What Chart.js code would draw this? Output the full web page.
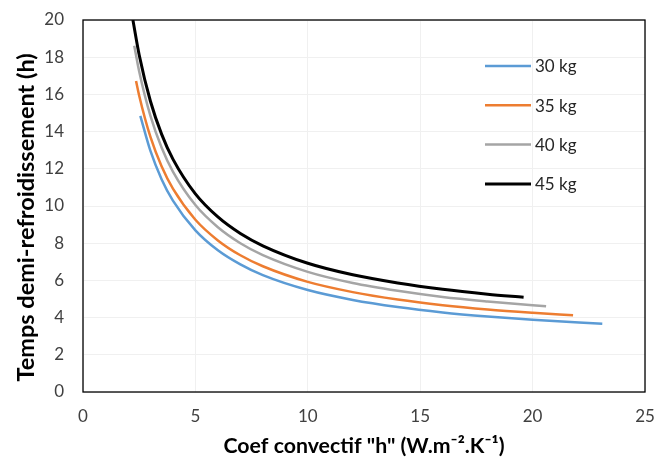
<!DOCTYPE html>
<html>
<head>
<meta charset="utf-8">
<script src="https://cdn.jsdelivr.net/npm/chart.js@4/dist/chart.umd.min.js"></script>
<style>
  html, body { margin: 0; padding: 0; background: #fff; }
  #wrap { width: 660px; height: 462px; }
</style>
</head>
<body>
<div id="wrap"><canvas id="coolChart" width="660" height="462"></canvas></div>
<script>
// valeurs
const seriesLabels = ["30 kg", "35 kg", "40 kg", "45 kg"];
const seriesColors = ["#5b9bd5", "#ed7d31", "#a5a5a5", "#000000"];

const h30 = [2.55, 3, 3.5, 4, 5, 6, 7, 8, 10, 12, 14, 16, 18, 20, 23.1];
const t30 = [14.85, 12.96, 11.43, 10.29, 8.69, 7.62, 6.86, 6.28, 5.48, 4.95, 4.57, 4.28, 4.06, 3.88, 3.67];

const h35 = [2.36, 2.5, 3, 3.5, 4, 5, 6, 7, 8, 10, 12, 14, 16, 18, 20, 21.8];
const t35 = [16.72, 15.93, 13.71, 12.12, 10.93, 9.26, 8.15, 7.35, 6.76, 5.92, 5.37, 4.97, 4.67, 4.44, 4.26, 4.12];

const h40 = [2.28, 2.5, 3, 3.5, 4, 5, 6, 7, 8, 10, 12, 14, 16, 18, 20, 20.6];
const t40 = [18.62, 17.23, 14.84, 13.13, 11.85, 10.05, 8.86, 8.0, 7.36, 6.46, 5.86, 5.44, 5.11, 4.87, 4.67, 4.61];

const h45 = [2.22, 2.5, 3, 3.5, 4, 5, 6, 7, 8, 10, 12, 14, 16, 18, 19.6];
const t45 = [20.0, 18.12, 15.63, 13.85, 12.52, 10.65, 9.41, 8.52, 7.86, 6.92, 6.30, 5.86, 5.52, 5.26, 5.09];

const xTicks = [0, 5, 10, 15, 20, 25];
const yTicks = [0, 2, 4, 6, 8, 10, 12, 14, 16, 18, 20];

const xs = [h30, h35, h40, h45];
const ys = [t30, t35, t40, t45];

const FONT = "Lato, 'Open Sans', sans-serif";

function toPoints(hx, ty) {
  return hx.map((v, i) => ({ x: v, y: ty[i] }));
}

// cadre noir autour de la zone de tracé + légende à droite
const framePlugin = {
  id: "frame",
  afterDatasetsDraw(chart) {
    const { ctx, chartArea: a } = chart;
    ctx.save();
    ctx.strokeStyle = "#000";
    ctx.lineWidth = 1.3;
    ctx.strokeRect(a.left, a.top, a.right - a.left, a.bottom - a.top);

    ctx.font = "17px " + FONT;
    ctx.textBaseline = "middle";
    ctx.textAlign = "left";
    chart.data.datasets.forEach((ds, i) => {
      const y = 66 + i * 39.3;
      ctx.strokeStyle = ds.borderColor;
      ctx.lineWidth = ds.borderWidth;
      ctx.beginPath();
      ctx.moveTo(485, y);
      ctx.lineTo(531, y);
      ctx.stroke();
      ctx.fillStyle = "#262626";
      ctx.fillText(ds.label, 535, y + 1);
    });
    ctx.restore();
  }
};

const ctx = document.getElementById("coolChart").getContext("2d");
new Chart(ctx, {
  type: "scatter",
  data: {
    datasets: seriesLabels.map((lab, i) => ({
      label: lab,
      data: toPoints(xs[i], ys[i]),
      showLine: true,
      borderColor: seriesColors[i],
      backgroundColor: seriesColors[i],
      borderWidth: i === 3 ? 3 : 2.5,
      pointRadius: 0,
      cubicInterpolationMode: "monotone",
      fill: false
    }))
  },
  options: {
    responsive: false,
    animation: false,
    devicePixelRatio: 1,
    layout: { padding: { top: 20, right: 15, left: 0, bottom: 0 } },
    plugins: {
      legend: { display: false },
      tooltip: { enabled: false }
    },
    scales: {
      x: {
        type: "linear",
        min: 0,
        max: 25,
        afterBuildTicks: s => { s.ticks = xTicks.map(v => ({ value: v })); },
        afterFit: s => { s.height = 70; s.paddingLeft = 0; s.paddingRight = 0; },
        grid: { color: "#f0f0f0", drawTicks: false },
        border: { display: false },
        ticks: { padding: 14, color: "#404040", font: { family: FONT, size: 17 } },
        title: {
          display: true,
          text: 'Coef convectif "h" (W.m⁻².K⁻¹)',
          color: "#000",
          font: { family: FONT, size: 21.3, weight: "bold" },
          padding: { top: 4, bottom: 3 }
        }
      },
      y: {
        type: "linear",
        min: 0,
        max: 20,
        afterBuildTicks: s => { s.ticks = yTicks.map(v => ({ value: v })); },
        afterFit: s => { s.width = 83; s.paddingTop = 0; s.paddingBottom = 0; },
        grid: { color: "#f0f0f0", drawTicks: false },
        border: { display: false },
        ticks: { padding: 19, color: "#404040", font: { family: FONT, size: 17 } },
        title: {
          display: true,
          // espaces finaux : décale le titre vers le bas comme sur l'original
          text: "Temps demi-refroidissement (h)    ",
          color: "#000",
          font: { family: FONT, size: 23.5, weight: "bold" },
          padding: { top: 12, bottom: 4 }
        }
      }
    }
  },
  plugins: [framePlugin]
});
</script>
</body>
</html>
